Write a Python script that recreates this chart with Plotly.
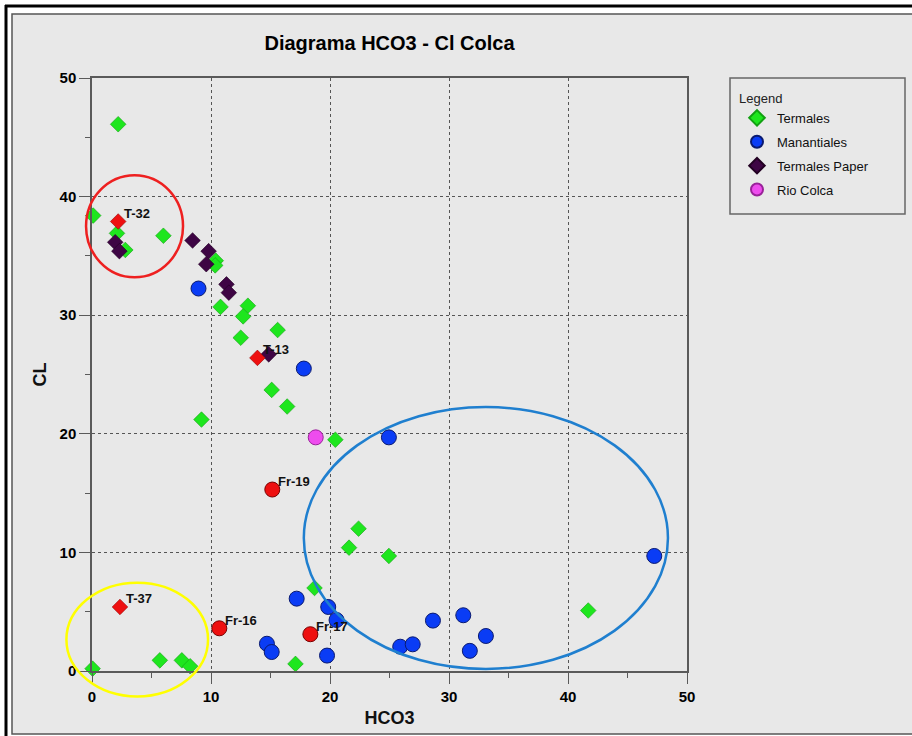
import plotly.graph_objects as go

# ---------------- data ----------------
termales_x = [2.2, 0.1, 2.1, 2.8, 6.0, 10.4, 10.35, 10.8, 13.1, 12.7, 15.6, 12.5, 15.1,
              16.4, 9.2, 20.45, 22.4, 21.6, 24.95, 18.7, 41.7, 17.1, 0.05, 5.7, 7.55, 8.25]
termales_y = [46.1, 38.4, 36.9, 35.5, 36.7, 34.6, 34.2, 30.7, 30.8, 29.9, 28.75, 28.1, 23.7,
              22.3, 21.2, 19.5, 12.0, 10.4, 9.7, 7.0, 5.1, 0.6, 0.2, 0.9, 0.9, 0.4]

manantiales_x = [8.95, 17.8, 24.95, 47.25, 17.2, 19.85, 20.55, 19.75, 28.65, 31.2, 33.1,
                 31.75, 25.9, 26.95, 14.7, 15.1]
manantiales_y = [32.25, 25.5, 19.7, 9.7, 6.1, 5.4, 4.3, 1.3, 4.25, 4.7, 2.95,
                 1.7, 2.05, 2.25, 2.3, 1.6]

paper_x = [1.95, 2.3, 8.45, 9.8, 9.6, 11.3, 11.5, 14.85]
paper_y = [36.15, 35.4, 36.3, 35.4, 34.3, 32.6, 31.9, 26.7]

rio_x = [18.8]
rio_y = [19.7]

red_diamond_labels = ["T-32", "T-13", "T-37"]
red_diamond_x = [2.2, 13.9, 2.35]
red_diamond_y = [37.9, 26.4, 5.4]

red_star_labels = ["Fr-19", "Fr-16", "Fr-17"]
red_star_x = [15.15, 10.7, 18.35]
red_star_y = [15.3, 3.6, 3.1]

# ellipses (data units): x0, x1, y0, y1, colour
ellipses = [
    (-0.5, 7.65, 33.2, 41.8, "#ee2020"),
    (-2.15, 9.75, -2.15, 7.45, "#ffff00"),
    (17.8, 48.4, 0.17, 22.26, "#1f7fcf"),
]

X_RANGE = [0, 50]
Y_RANGE = [0, 50]

# ---------------- figure ----------------
W, H = 912, 736
ML, MR, MT, MB = 92, 225, 78, 65
PW = W - ML - MR
PH = H - MT - MB
BG = "#e8e8e8"
AX = "#5a5a5a"
FONT = "Liberation Sans, Arial"


def px_x(p):
    return (p - ML) / PW


def px_y(p):
    return (H - MB - p) / PH


fig = go.Figure()

fig.add_trace(go.Scatter(
    x=termales_x, y=termales_y, mode="markers", name="Termales", cliponaxis=False,
    legendgroup="g1",
    marker=dict(symbol="diamond", size=12, color="#1ee61e", line=dict(color="#12a012", width=0.6))))
fig.add_trace(go.Scatter(
    x=manantiales_x, y=manantiales_y, mode="markers", name="Manantiales", cliponaxis=False,
    legendgroup="g2",
    marker=dict(symbol="circle", size=15, color="#0a3cf5", line=dict(color="#0a1a70", width=1))))
fig.add_trace(go.Scatter(
    x=paper_x, y=paper_y, mode="markers", name="Termales Paper", cliponaxis=False,
    legendgroup="g3",
    marker=dict(symbol="diamond", size=12, color="#3e0544", line=dict(color="#220022", width=0.6))))
fig.add_trace(go.Scatter(
    x=rio_x, y=rio_y, mode="markers", name="Rio Colca", cliponaxis=False,
    legendgroup="g4",
    marker=dict(symbol="circle", size=15, color="#ee4cee", line=dict(color="#992299", width=1))))
fig.add_trace(go.Scatter(
    x=red_diamond_x, y=red_diamond_y, mode="markers", showlegend=False, cliponaxis=False,
    marker=dict(symbol="diamond", size=12, color="#ee1010", line=dict(color="#990000", width=0.6))))
fig.add_trace(go.Scatter(
    x=red_star_x, y=red_star_y, mode="markers", showlegend=False, cliponaxis=False,
    marker=dict(symbol="circle", size=15, color="#ee1010", line=dict(color="#770000", width=1))))

annotations = []
for lab, xv, yv in list(zip(red_diamond_labels, red_diamond_x, red_diamond_y)) + \
        list(zip(red_star_labels, red_star_x, red_star_y)):
    annotations.append(dict(x=xv, y=yv, xref="x", yref="y", text="<b>%s</b>" % lab,
                            showarrow=False, xanchor="left", yanchor="middle",
                            xshift=4, yshift=8,
                            font=dict(family=FONT, size=13, color="#111")))

shapes = []
# outer frame
shapes.append(dict(type="rect", xref="paper", yref="paper",
                   x0=px_x(12), x1=px_x(930), y0=px_y(14), y1=px_y(734),
                   fillcolor=BG, line=dict(color="#555", width=1.5), layer="below"))
shapes.append(dict(type="line", xref="paper", yref="paper",
                   x0=px_x(6), x1=px_x(6), y0=px_y(5), y1=px_y(740),
                   line=dict(color="#000", width=3)))
shapes.append(dict(type="line", xref="paper", yref="paper",
                   x0=px_x(5), x1=px_x(920), y0=px_y(6), y1=px_y(6),
                   line=dict(color="#000", width=3)))
# legend box
shapes.append(dict(type="rect", xref="paper", yref="paper",
                   x0=px_x(730), x1=px_x(905), y0=px_y(78), y1=px_y(214),
                   line=dict(color="#666", width=1.5), fillcolor="rgba(0,0,0,0)"))
# ellipses
for x0, x1, y0, y1, col in ellipses:
    shapes.append(dict(type="circle", xref="paper", yref="paper",
                       x0=(x0 - X_RANGE[0]) / (X_RANGE[1] - X_RANGE[0]),
                       x1=(x1 - X_RANGE[0]) / (X_RANGE[1] - X_RANGE[0]),
                       y0=(y0 - Y_RANGE[0]) / (Y_RANGE[1] - Y_RANGE[0]),
                       y1=(y1 - Y_RANGE[0]) / (Y_RANGE[1] - Y_RANGE[0]),
                       line=dict(color=col, width=2.5)))

axis_common = dict(
    showline=True, linecolor=AX, linewidth=1.5, mirror=True,
    ticks="outside", ticklen=11, tickwidth=1.2, tickcolor=AX,
    dtick=10, tick0=0, zeroline=False,
    showgrid=True, gridcolor="#555", griddash="dot", gridwidth=1.3,
    tickfont=dict(family=FONT, size=15, color="#000", weight="bold"),
    minor=dict(dtick=5, ticks="outside", ticklen=5, tickcolor=AX, showgrid=False),
)

fig.update_layout(
    width=W, height=H,
    margin=dict(l=ML, r=MR, t=MT, b=MB, pad=0),
    paper_bgcolor="white", plot_bgcolor=BG,
    title=dict(text="<b>Diagrama HCO3 - Cl Colca</b>", x=px_x(ML + PW / 2), xanchor="center",
               xref="paper", y=1 - 43 / H, yanchor="middle",
               font=dict(family=FONT, size=20, color="#000")),
    xaxis=dict(axis_common, range=X_RANGE,
               title=dict(text="<b>HCO3</b>", standoff=8,
                          font=dict(family=FONT, size=18, color="#111"))),
    yaxis=dict(axis_common, range=Y_RANGE,
               title=dict(text="<b>CL</b>", standoff=8,
                          font=dict(family=FONT, size=18, color="#111"))),
    legend=dict(x=px_x(737), y=px_y(86), xanchor="left", yanchor="top",
                bgcolor="rgba(0,0,0,0)", borderwidth=0, tracegroupgap=4,
                title=dict(text="Legend", font=dict(family=FONT, size=13, color="#222")),
                font=dict(family=FONT, size=13, color="#111"),
                itemsizing="constant"),
    shapes=shapes,
    annotations=annotations,
    showlegend=True,
)

fig.write_html("out.html", config={"displayModeBar": False},
               post_script="document.body.style.margin='0';document.body.style.overflow='hidden';")
